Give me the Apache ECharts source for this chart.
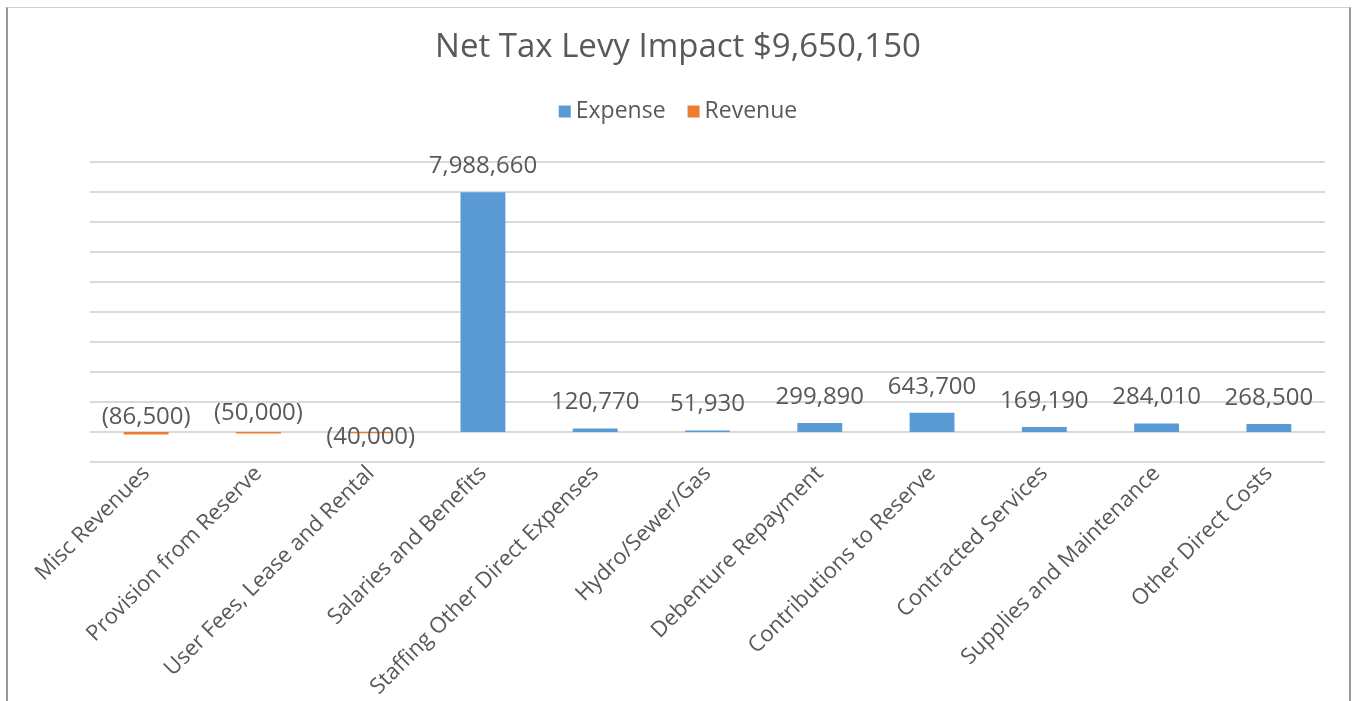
<!DOCTYPE html>
<html>
<head>
<meta charset="utf-8">
<script src="https://cdn.jsdelivr.net/npm/echarts@6/dist/echarts.min.js"></script>
<style>
html,body{margin:0;padding:0;background:#fff;}
#frame{position:absolute;left:6px;top:7px;width:1341px;height:700px;border-top:1px solid #d0d0d0;border-left:2px solid #9a9a9a;border-right:2px solid #9a9a9a;}
#chart{position:absolute;left:0;top:0;width:1356px;height:701px;}
</style>
</head>
<body>
<div id="frame"></div>
<div id="chart"></div>
<script>
const categories = ["Misc Revenues","Provision from Reserve","User Fees, Lease and Rental","Salaries and Benefits","Staffing Other Direct Expenses","Hydro/Sewer/Gas","Debenture Repayment","Contributions to Reserve","Contracted Services","Supplies and Maintenance","Other Direct Costs"];
const expense = [null,null,null,7988660,120770,51930,299890,643700,169190,284010,268500];
const revenue = [-86500,-50000,-40000,null,null,null,null,null,null,null,null];
const titleText = "Net Tax Levy Impact $9,650,150";

const FONT = "'Open Sans', 'Noto Sans', sans-serif";
const TXT = "#595959";
function fmt(v){
  const s = Math.abs(v).toLocaleString('en-US');
  return v < 0 ? '(' + s + ')' : s;
}
const revOffsets = [[0,0],[0,-4],[0,20]];
const revenueData = revenue.map((v,i)=> v==null ? null : {
  value: v,
  label: {offset: revOffsets[i] || [0,0]}
});

const chart = echarts.init(document.getElementById('chart'));
chart.setOption({
  animation:false,
  title:{text:titleText,left:'center',top:26,textStyle:{fontFamily:FONT,fontSize:33,fontWeight:'normal',color:TXT}},
  legend:{top:95,left:'center',itemWidth:12,itemHeight:12,itemGap:22,icon:'rect',
    textStyle:{fontFamily:FONT,fontSize:23,color:TXT}},
  grid:{left:90,right:31,top:162,bottom:239,containLabel:false},
  xAxis:{type:'category',data:categories,
    axisLine:{show:false,onZero:false},axisTick:{show:false},
    axisLabel:{rotate:45,interval:0,margin:8,fontFamily:FONT,fontSize:22,color:TXT}},
  yAxis:{type:'value',min:-1000000,max:9000000,interval:1000000,
    axisLabel:{show:false},axisLine:{show:false},axisTick:{show:false},
    splitLine:{lineStyle:{color:'#d9d9d9',width:2}}},
  series:[
    {name:'Expense',type:'bar',stack:'a',barWidth:'40%',data:expense,
      itemStyle:{color:'#5B9BD5'},
      label:{show:true,position:'top',distance:14,formatter:p=>fmt(p.value),fontFamily:FONT,fontSize:24,color:TXT}},
    {name:'Revenue',type:'bar',stack:'a',barWidth:'40%',data:revenueData,
      itemStyle:{color:'#ED7D31'},
      label:{show:true,position:'top',distance:3,formatter:p=>fmt(p.value),fontFamily:FONT,fontSize:24,color:TXT}}
  ]
});
</script>
</body>
</html>
